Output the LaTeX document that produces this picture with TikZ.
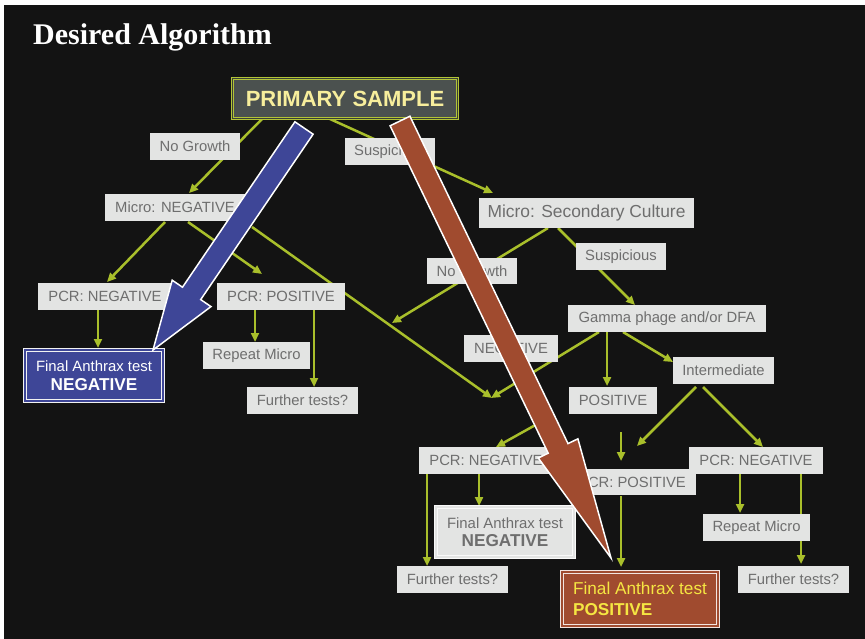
\documentclass[tikz,border=0pt]{standalone}
\usepackage{fontspec}
\setmainfont{Liberation Sans}
\newfontfamily\titlefont{Liberation Serif}
\usetikzlibrary{arrows.meta}
\pgfdeclarelayer{back}
\pgfdeclarelayer{conn}
\pgfsetlayers{back,conn,main}
\definecolor{bgdark}{HTML}{131313}
\definecolor{boxgray}{HTML}{E3E4E3}
\definecolor{txtgray}{HTML}{6E6E6E}
\definecolor{lgreen}{HTML}{A9BF2B}
\definecolor{bigblue}{HTML}{3E4697}
\definecolor{bigred}{HTML}{A04B2F}
\definecolor{posyellow}{HTML}{F5E642}
\definecolor{psfill}{HTML}{4B514F}
\definecolor{psgap}{HTML}{3A3F35}
\definecolor{pstext}{HTML}{F7EE9C}
\definecolor{psline}{HTML}{B3C437}
\begin{document}
\begin{tikzpicture}[x=1pt,y=-1pt,
  lbl/.style={fill=boxgray,text=txtgray,font=\fontsize{14.8}{17}\selectfont,inner sep=0pt,minimum height=27pt,minimum width=#1pt},
  flowline/.style={draw=lgreen,line width=2.5pt,-{Triangle[length=9pt,width=8pt]}},
  finalbox/.style={line width=0.9pt,double distance=2pt,inner sep=0pt,align=center},
  bigarrow/.style={draw=white,line width=1.5pt,line join=miter}
]
\useasboundingbox (0,0) rectangle (865,639);
\begin{pgfonlayer}{back}
\fill[white] (0,0) rectangle (865,639);
\fill[bgdark] (4,5) rectangle (865,639);
\end{pgfonlayer}

\node[anchor=base west,inner sep=0pt,text=white,font=\titlefont\bfseries\fontsize{30}{34}\selectfont] (title) at (33,45) {Desired Algorithm};

% main nodes
\node[draw=psline,line width=1pt,double=psgap,double distance=1.2pt,fill=psfill,text=pstext,inner sep=0pt,minimum width=224.8pt,minimum height=39.8pt,font=\bfseries\fontsize{22}{26}\selectfont] (ps) at (345,98.5) {PRIMARY SAMPLE};
\node[lbl=90] (ng1) at (195,146.5) {No Growth};
\node[lbl=90] (su1) at (390,151.5) {Suspicious};
\node[lbl=140] (mneg) at (175,207.5) {Micro: NEGATIVE};
\node[lbl=215,minimum height=30pt,font=\fontsize{17.4}{20}\selectfont] (msec) at (586.5,213) {Micro: Secondary Culture};
\node[lbl=90] (su2) at (621,256.5) {Suspicious};
\node[lbl=90,minimum height=26pt] (ng2) at (472,271) {No Growth};
\node[lbl=134] (pcrnl) at (105,296.5) {PCR: NEGATIVE};
\node[lbl=128] (pcrpu) at (281,296.5) {PCR: POSITIVE};
\node[lbl=107] (repu) at (256.5,355.5) {Repeat Micro};
\node[lbl=111] (furu) at (302.5,400.5) {Further tests?};
\node[lbl=198] (gam) at (667,318.5) {Gamma phage and/or DFA};
\node[lbl=94] (negl) at (511,348.5) {NEGATIVE};
\node[lbl=88] (posl) at (613,400.5) {POSITIVE};
\node[lbl=101] (inter) at (723.5,370.5) {Intermediate};
\node[lbl=134] (pcrnlo) at (486,460.5) {PCR: NEGATIVE};
\node[lbl=128,minimum height=26pt] (pcrplo) at (632,482) {PCR: POSITIVE};
\node[lbl=134] (pcrnr) at (756,460.5) {PCR: NEGATIVE};
\node[lbl=111] (furlo) at (452.5,579.5) {Further tests?};
\node[lbl=107] (repr) at (756.5,527.5) {Repeat Micro};
\node[lbl=111] (furr) at (793.5,579.5) {Further tests?};

\node[finalbox,draw=white!90!gray,double=bigblue,fill=bigblue,text=white,minimum width=138pt,minimum height=51pt,font=\fontsize{14.9}{19}\selectfont] (fnb) at (94,375.5)
  {Final Anthrax test\\{\bfseries\fontsize{17.2}{19}\selectfont NEGATIVE}};
\node[finalbox,draw=white!95!gray,double=boxgray,fill=boxgray,text=txtgray,minimum width=138pt,minimum height=50pt,font=\fontsize{14.9}{18.5}\selectfont] (fng) at (505,532)
  {Final Anthrax test\\{\bfseries\fontsize{17.2}{18.5}\selectfont NEGATIVE}};
\node[finalbox,draw=white!85!bigred,double=bigred,fill=bigred,text=posyellow,minimum width=156pt,minimum height=54pt,align=left,font=\fontsize{17.2}{21}\selectfont] (fpos) at (640,599)
  {Final Anthrax test\\{\bfseries POSITIVE}};

% connector end points
\coordinate (a1) at (262,119); \coordinate (b1) at (189,193);
\coordinate (a2) at (330,119); \coordinate (b2) at (493,193);
\coordinate (a3) at (165,222); \coordinate (b3) at (107,282);
\coordinate (a4) at (188,222); \coordinate (b4) at (262,274);
\coordinate (a5) at (252,227); \coordinate (conv) at (492,398);
\coordinate (a6) at (98,310);  \coordinate (b6) at (98,348);
\coordinate (a7) at (255,310); \coordinate (b7) at (255,342);
\coordinate (a8) at (314,310); \coordinate (b8) at (314,387);
\coordinate (a9) at (548,228); \coordinate (b9) at (392,323);
\coordinate (a10) at (558,228); \coordinate (b10) at (635,305);
\coordinate (a11) at (599,332);
\coordinate (a12) at (607,332); \coordinate (b12) at (607,386);
\coordinate (a13) at (623,332); \coordinate (b13) at (673,362);
\coordinate (a14) at (696,387); \coordinate (b14) at (637,446);
\coordinate (a15) at (703,387); \coordinate (b15) at (763,447);
\coordinate (a16) at (621,432); \coordinate (b16) at (621,461);
\coordinate (a17) at (548,418); \coordinate (b17) at (496,447);
\coordinate (a18) at (427,474); \coordinate (b18) at (427,566);
\coordinate (a19) at (479,474); \coordinate (b19) at (479,506);
\coordinate (a20) at (621,496); \coordinate (b20) at (621,567);
\coordinate (a21) at (740,472); \coordinate (b21) at (740,513);
\coordinate (a22) at (801,472); \coordinate (b22) at (801,564);

\begin{pgfonlayer}{conn}
\foreach \i in {1,2,3,4,6,7,8,9,10,12,13,14,15,16,17,18,19,20,21,22}
  \draw[flowline] (a\i) -- (b\i);
\draw[flowline] (a5) -- (conv);
\draw[flowline] (a11) -- ([xshift=-1pt]conv);
\end{pgfonlayer}

% big arrows
\draw[bigarrow,fill=bigblue] (294.9,121.8) -- (182.5,287.2) -- (172.2,280.2) -- (153,350) -- (211,306.6) -- (200.7,299.6) -- (313.1,134.2) -- cycle;
\draw[bigarrow,fill=bigred] (390.1,125.8) -- (548.2,453.2) -- (538.3,458) -- (611,558) -- (577.9,438.8) -- (568,443.6) -- (409.9,116.2) -- cycle;
\end{tikzpicture}
\end{document}
